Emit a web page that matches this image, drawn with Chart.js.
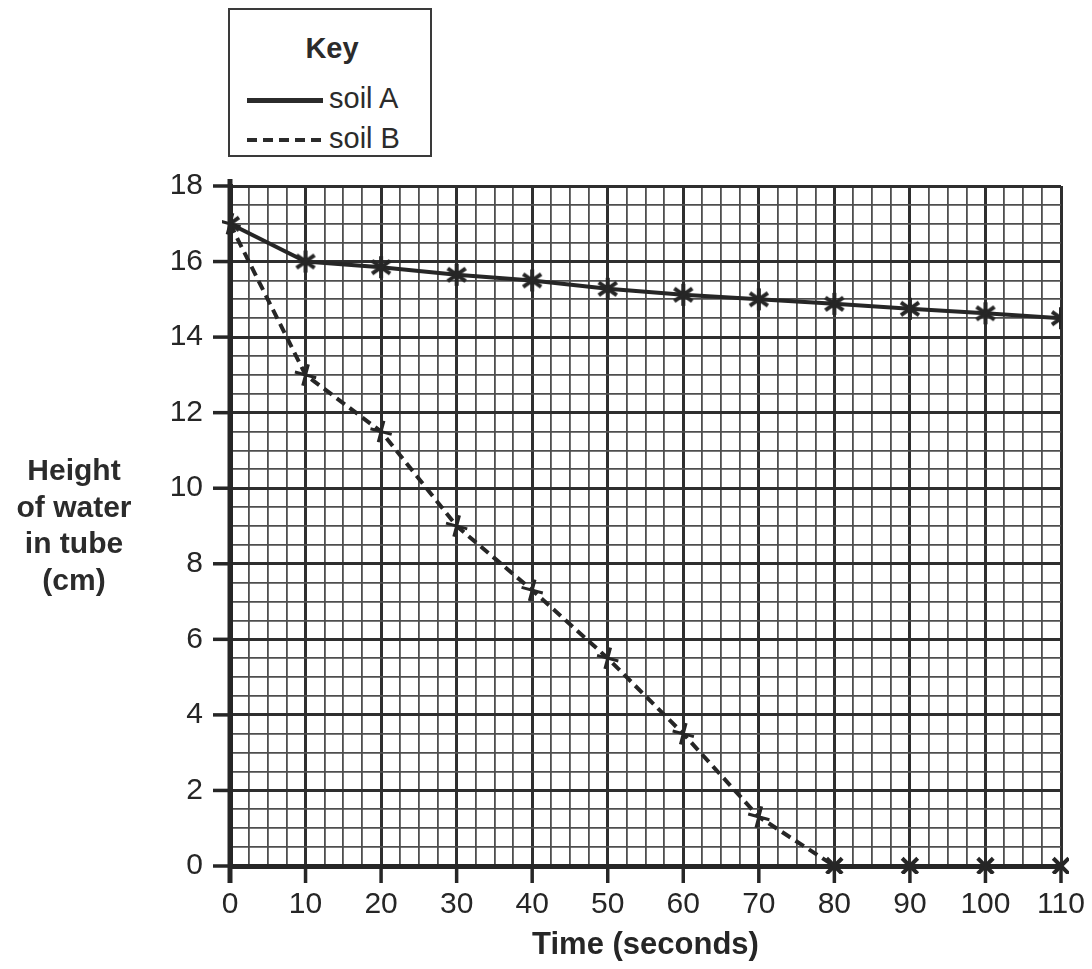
<!DOCTYPE html>
<html lang="en">
<head>
    <meta charset="UTF-8">
    <title>Height of water in tube</title>
    <script src="https://cdn.jsdelivr.net/npm/chart.js"></script>
    <style>
        body {
            margin: 0;
            padding: 0;
            background: #fff;
            font-family: "Liberation Sans", Arial, sans-serif;
            color: #2b2b2b;
        }
        .wrap {
            position: relative;
            width: 1092px;
            height: 969px;
        }
        .key {
            position: absolute;
            left: 228px;
            top: 8px;
            width: 200px;
            height: 145px;
            border: 2px solid #3a3a3a;
            background: #fff;
            z-index: 2;
        }
        .key-title {
            position: absolute;
            left: 0;
            width: 200px;
            top: 22px;
            text-align: center;
            font-weight: bold;
            font-size: 29px;
            line-height: 32px;
            padding-left: 4px;
            box-sizing: border-box;
        }
        .key-row {
            position: absolute;
            left: 17px;
            font-size: 29px;
            line-height: 32px;
        }
        .key-row span.sample {
            display: inline-block;
            width: 76px;
            vertical-align: middle;
            margin-right: 6px;
        }
        .solid { border-top: 5px solid #2b2b2b; }
        .dashed {
            height: 4px;
            background: repeating-linear-gradient(90deg, #2b2b2b 0 10px, transparent 10px 16px);
        }
        .ytitle {
            position: absolute;
            left: 4px;
            width: 140px;
            top: 452px;
            text-align: center;
            font-weight: bold;
            font-size: 30px;
            line-height: 36.5px;
        }
    </style>
</head>
<body>
<div class="wrap">
    <canvas id="waterChart"></canvas>
    <div class="key">
        <div class="key-title">Key</div>
        <div class="key-row" style="top:72px"><span class="sample solid"></span>soil A</div>
        <div class="key-row" style="top:112px"><span class="sample dashed"></span>soil B</div>
    </div>
    <div class="ytitle">Height<br>of water<br>in tube<br>(cm)</div>
</div>

<script>
    // values
    const times = [0, 10, 20, 30, 40, 50, 60, 70, 80, 90, 100, 110];
    const soilA = [17, 16, 15.85, 15.65, 15.5, 15.28, 15.12, 15.0, 14.88, 14.75, 14.63, 14.5];
    const soilB = [17, 13, 11.5, 9, 7.3, 5.5, 3.5, 1.3, 0, 0, 0, 0];
    const xTicks = [0, 10, 20, 30, 40, 50, 60, 70, 80, 90, 100, 110];
    const yTicks = [0, 2, 4, 6, 8, 10, 12, 14, 16, 18];

    const ink = '#262626';
    const font = '"Liberation Sans", Arial, sans-serif';

    // asterisk marker used for soil A
    function asterisk() {
        const c = document.createElement('canvas');
        c.width = 26; c.height = 26;
        const g = c.getContext('2d');
        g.strokeStyle = ink;
        g.lineWidth = 4;
        [90, 35, 145].forEach(a => {
            const r = a * Math.PI / 180;
            g.beginPath();
            g.moveTo(13 - 11 * Math.cos(r), 13 - 11 * Math.sin(r));
            g.lineTo(13 + 11 * Math.cos(r), 13 + 11 * Math.sin(r));
            g.stroke();
        });
        return c;
    }
    const starMark = asterisk();

    const isMajor = (v, step) => Math.abs(v / step - Math.round(v / step)) < 1e-6;

    function gridFor(step) {
        return {
            color: c => isMajor(c.tick.value, step) ? '#2e2e2e' : '#4e4e4e',
            lineWidth: c => isMajor(c.tick.value, step) ? 3 : 1.8,
            tickColor: 'rgba(0,0,0,0)',
            tickLength: 17,
            drawTicks: true
        };
    }

    // outside tick marks on the labelled values
    const tickMarks = {
        id: 'tickMarks',
        afterDraw(chart) {
            const {ctx, chartArea, scales} = chart;
            ctx.save();
            ctx.strokeStyle = ink;
            ctx.lineWidth = 3.5;
            xTicks.forEach(v => {
                const px = scales.x.getPixelForValue(v);
                ctx.beginPath();
                ctx.moveTo(px, chartArea.bottom);
                ctx.lineTo(px, chartArea.bottom + 17);
                ctx.stroke();
            });
            yTicks.forEach(v => {
                const py = scales.y.getPixelForValue(v);
                ctx.beginPath();
                ctx.moveTo(chartArea.left - 17, py);
                ctx.lineTo(chartArea.left, py);
                ctx.stroke();
            });
            ctx.lineWidth = 5;
            ctx.beginPath();
            ctx.moveTo(chartArea.left, chartArea.top - 7);
            ctx.lineTo(chartArea.left, chartArea.bottom + 17);
            ctx.stroke();
            ctx.restore();
        }
    };

    const ctx = document.getElementById('waterChart').getContext('2d');
    const waterChart = new Chart(ctx, {
        type: 'line',
        data: {
            datasets: [{
                label: 'soil A',
                data: times.map((t, i) => ({x: t, y: soilA[i]})),
                borderColor: ink,
                borderWidth: 4,
                tension: 0,
                pointStyle: starMark,
                pointRadius: 11,
                pointHoverRadius: 11,
                pointBorderColor: ink,
                pointBackgroundColor: ink
            }, {
                label: 'soil B',
                data: times.map((t, i) => ({x: t, y: soilB[i]})),
                borderColor: ink,
                borderWidth: 4,
                borderDash: [10, 6],
                tension: 0,
                pointStyle: c => (c.raw && c.raw.y === 0) ? 'crossRot' : 'cross',
                pointRadius: 11,
                pointHoverRadius: 11,
                pointBorderWidth: c => (c.raw && c.raw.y === 0) ? 4 : 3,
                pointRotation: c => (c.raw && c.raw.y === 0) ? 0 : 15,
                pointBorderColor: ink,
                pointBackgroundColor: '#fff',
                clip: 8
            }]
        },
        options: {
            responsive: true,
            maintainAspectRatio: false,
            animation: false,
            layout: { padding: { top: 186, right: 31, left: 0, bottom: 0 } },
            plugins: {
                legend: { display: false },
                tooltip: { enabled: false }
            },
            scales: {
                x: {
                    type: 'linear',
                    min: 0,
                    max: 110,
                    afterFit: s => { s.height = 103; },
                    ticks: {
                        stepSize: 2.5,
                        autoSkip: false,
                        maxRotation: 0,
                        padding: 4,
                        color: ink,
                        font: { family: font, size: 30 },
                        callback: v => xTicks.includes(v) ? String(v) : ''
                    },
                    grid: gridFor(10),
                    border: { display: true, color: ink, width: 5 },
                    title: {
                        display: true,
                        text: 'Time (seconds)',
                        color: ink,
                        font: { family: font, size: 31, weight: 'bold' },
                        padding: { top: 0, bottom: 5 }
                    }
                },
                y: {
                    type: 'linear',
                    min: 0,
                    max: 18,
                    afterFit: s => { s.width = 230; },
                    ticks: {
                        stepSize: 0.5,
                        autoSkip: false,
                        padding: 10,
                        color: ink,
                        font: { family: font, size: 30 },
                        callback: v => yTicks.includes(v) ? String(v) : ''
                    },
                    grid: gridFor(2),
                    border: { display: true, color: ink, width: 5 }
                }
            }
        },
        plugins: [tickMarks]
    });
</script>
</body>
</html>
